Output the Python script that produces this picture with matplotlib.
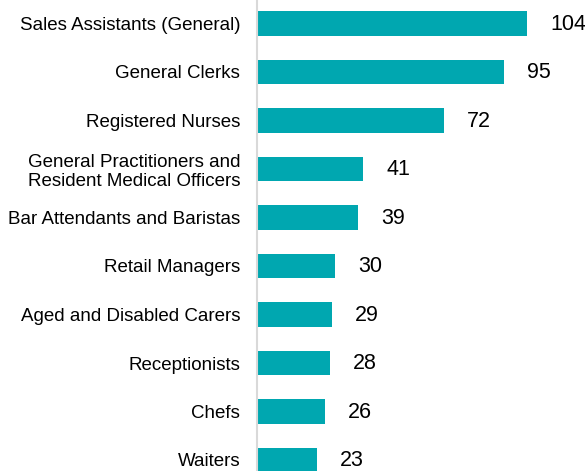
import matplotlib
matplotlib.use("Agg")
import matplotlib.pyplot as plt

plt.rcParams['font.family'] = ['Liberation Sans', 'DejaVu Sans']

occupations = [
    "Sales Assistants (General)",
    "General Clerks",
    "Registered Nurses",
    "General Practitioners and\nResident Medical Officers",
    "Bar Attendants and Baristas",
    "Retail Managers",
    "Aged and Disabled Carers",
    "Receptionists",
    "Chefs",
    "Waiters",
]
counts = [104, 95, 72, 41, 39, 30, 29, 28, 26, 23]

teal = "#00A7B0"

fig = plt.figure(figsize=(5.85, 4.71), dpi=100)
ax = fig.add_axes([257 / 585, 0, 328 / 585, 1])

pos = list(range(len(occupations)))
bars = ax.barh(pos, counts, height=0.5, color=teal)

for b, v in zip(bars, counts):
    ax.annotate(str(v), (b.get_width(), b.get_y() + b.get_height() / 2),
                xytext=(16.5, -0.5), textcoords="offset points",
                va="center", ha="left", fontsize=15.5, color="#000000")

ax.set_xlim(0, 104 * 328 / 270)
ax.set_ylim(9 + 11 / 48.5, -23.5 / 48.5)
ax.set_yticks(pos)
ax.set_yticklabels(occupations, fontsize=13.5, linespacing=1.15)
ax.tick_params(axis="y", length=0, pad=12)
ax.set_xticks([])

for s in ["top", "right", "bottom"]:
    ax.spines[s].set_visible(False)
ax.spines["left"].set_color("#d9d9d9")
ax.spines["left"].set_linewidth(1.5)

fig.savefig("out.png", dpi=100)
